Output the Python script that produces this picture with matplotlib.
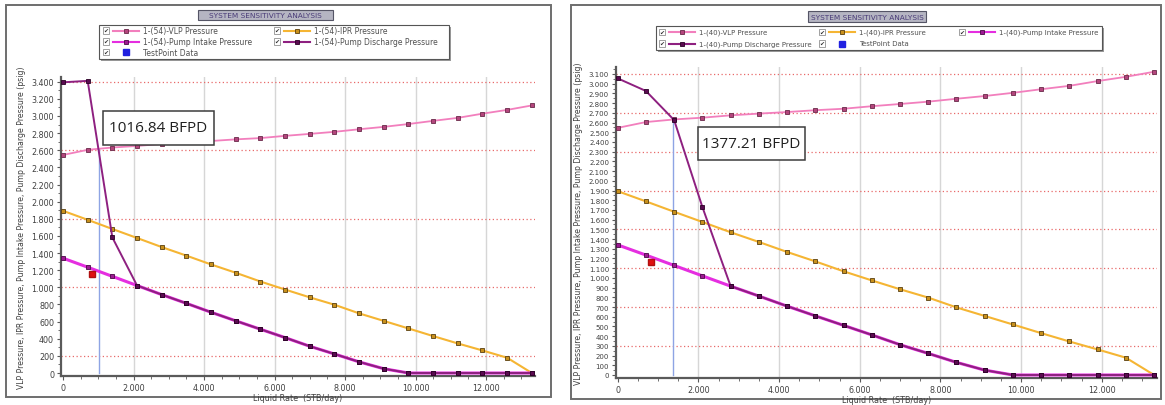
import numpy as np
import matplotlib
matplotlib.use("Agg")
import matplotlib.pyplot as plt
from matplotlib.patches import Rectangle
from matplotlib.lines import Line2D
from matplotlib.ticker import MultipleLocator, AutoMinorLocator, FuncFormatter, FixedLocator

# ---- data -------------------------------------------------------------
liquid_rate = [0, 700, 1400, 2100, 2800, 3500, 4200, 4900, 5600, 6300,
               7000, 7700, 8400, 9100, 9800, 10500, 11200, 11900, 12600, 13300]

vlp_pressure = [2545, 2605, 2632, 2650, 2674, 2692, 2708, 2727, 2742, 2768,
                2791, 2815, 2845, 2873, 2906, 2943, 2978, 3027, 3071, 3123]

ipr_pressure = [1893, 1788, 1681, 1576, 1470, 1370, 1267, 1170, 1068, 974,
                883, 797, 696, 608, 520, 431, 345, 263, 178, 0]

intake_pressure = [1340, 1235, 1128, 1021, 915, 813, 709, 609, 511, 413,
                   312, 222, 130, 50, 0, 0, 0, 0, 0, 0]

discharge_54 = [3393, 3410, 1582, 1021, 915, 813, 709, 609, 511, 413,
                312, 222, 130, 50, 0, 0, 0, 0, 0, 0]

discharge_40 = [3055, 2925, 2625, 1730, 915, 813, 709, 609, 511, 413,
                312, 222, 130, 50, 0, 0, 0, 0, 0, 0]

test_rate = [830]
test_pressure = [1160]

operating_rate_54 = 1016.84
operating_rate_40 = 1377.21

x_ticks = [0, 2000, 4000, 6000, 8000, 10000, 12000]

# ---- styling ----------------------------------------------------------
W, H = 1165, 406
fig = plt.figure(figsize=(W / 100, H / 100), dpi=100)
fig.patch.set_facecolor("white")

FONT = "DejaVu Sans"
TXT = "#404040"
MS = 3.2

C_VLP, M_VLP, E_VLP = "#f27fbd", "#b3457c", "#6a2a4a"
C_IPR, M_IPR, E_IPR = "#f5b533", "#c8901c", "#5a4010"
C_INT, M_INT, E_INT = "#e52ee0", "#9c1a92", "#4a0a46"
C_DIS, M_DIS, E_DIS = "#8e2080", "#5a0a50", "#2a0025"


def fx(px):
    return px / W


def fy(py):
    return 1 - py / H


def dotted(v, pos):
    return f"{v:,.0f}".replace(",", ".")


def add_box(x0, y0, x1, y1, **kw):
    r = Rectangle((fx(x0), fy(y1)), fx(x1) - fx(x0), fy(y0) - fy(y1),
                  transform=fig.transFigure, **kw)
    fig.add_artist(r)
    return r


def checkbox(px, py):
    add_box(px - 3.2, py - 3.2, px + 3.2, py + 3.2, facecolor="white",
            edgecolor="#909090", lw=0.6)
    fig.text(fx(px), fy(py), "\u2714", fontsize=4.3, color="#303030",
             ha="center", va="center", family=FONT)


def legend_entry(px, py, line_color, mark_face, mark_edge, label, size=5.5):
    checkbox(px, py)
    fig.add_artist(Line2D([fx(px + 7), fx(px + 33)], [fy(py), fy(py)],
                          transform=fig.transFigure, color=line_color, lw=1.5))
    fig.add_artist(Line2D([fx(px + 20)], [fy(py)], transform=fig.transFigure,
                          marker="s", ms=MS, mfc=mark_face, mec=mark_edge,
                          mew=0.6, ls="none"))
    fig.text(fx(px + 37), fy(py), label, fontsize=size, color="#505050",
             ha="left", va="center", family=FONT)


def test_entry(px, py, label, size=5.5):
    checkbox(px, py)
    fig.add_artist(Line2D([fx(px + 20)], [fy(py)], transform=fig.transFigure,
                          marker="s", ms=3.8, mfc="#2020e0", mec="#2020e0",
                          ls="none"))
    fig.text(fx(px + 37), fy(py), label, fontsize=size, color="#505050",
             ha="left", va="center", family=FONT)


def panel(box, title_box, legend_box, ax_px, xlim, ylim, y_step, y_grid,
          discharge, op_rate, note_box, ytick_size):
    # outer frame
    add_box(*box, facecolor="white", edgecolor="#6e6e6e", lw=1.4, zorder=0)

    # title tag
    tx0, ty0, tx1, ty1 = title_box
    add_box(tx0, ty0, tx1, ty1, facecolor="#b5b5c2", edgecolor="#555566", lw=0.8)
    fig.text(fx((tx0 + tx1) / 2), fy((ty0 + ty1) / 2 + 0.5),
             "SYSTEM SENSITIVITY ANALYSIS", fontsize=5.3, color="#4a3c78",
             ha="center", va="center", family=FONT)

    # legend frame with shadow
    lx0, ly0, lx1, ly1 = legend_box
    add_box(lx0 + 2, ly0 + 2, lx1 + 2, ly1 + 2, facecolor="#9a9a9a",
            edgecolor="none")
    add_box(lx0, ly0, lx1, ly1, facecolor="white", edgecolor="#555555", lw=0.8)

    # plotting area
    l, t, r, b = ax_px
    ax = fig.add_axes([fx(l), fy(b), (r - l) / W, (b - t) / H])
    ax.set_xlim(*xlim)
    ax.set_ylim(*ylim)
    ax.set_facecolor("white")

    for v in x_ticks[1:]:
        ax.axvline(v, color="#d6d6d6", lw=1.0, zorder=1)
    for v in y_grid:
        ax.axhline(v, color="#e86a6a", lw=0.9, ls=(0, (1, 2)), zorder=1)

    ax.plot(liquid_rate, vlp_pressure, color=C_VLP, lw=1.3, marker="s",
            ms=MS, mfc=M_VLP, mec=E_VLP, mew=0.6, zorder=3)
    ax.plot(liquid_rate, ipr_pressure, color=C_IPR, lw=1.5, marker="s",
            ms=MS, mfc=M_IPR, mec=E_IPR, mew=0.6, zorder=3)
    ax.plot(liquid_rate, intake_pressure, color=C_INT, lw=2.2, marker="s",
            ms=MS, mfc=M_INT, mec=E_INT, mew=0.6, zorder=4)
    ax.plot(liquid_rate, discharge, color=C_DIS, lw=1.4, marker="s",
            ms=MS, mfc=M_DIS, mec=E_DIS, mew=0.6, zorder=5)
    ax.plot(test_rate, test_pressure, ls="none", marker="s", ms=4.2,
            mfc="#e01010", mec="#b01010", zorder=6)

    op_p = np.interp(op_rate, liquid_rate, vlp_pressure)
    ax.plot([op_rate, op_rate], [0, op_p], color="#8ea4e4", lw=1.0, zorder=2)

    for s in ("top", "right"):
        ax.spines[s].set_visible(False)
    for s in ("left", "bottom"):
        ax.spines[s].set_color("#5a5a5a")
        ax.spines[s].set_linewidth(1.6)

    ax.xaxis.set_major_locator(FixedLocator(x_ticks))
    ax.xaxis.set_minor_locator(MultipleLocator(500))
    ax.yaxis.set_major_locator(MultipleLocator(y_step))
    ax.yaxis.set_minor_locator(AutoMinorLocator(2))
    ax.xaxis.set_major_formatter(FuncFormatter(dotted))
    ax.yaxis.set_major_formatter(FuncFormatter(dotted))
    ax.tick_params(axis="x", which="major", labelsize=5.8, labelcolor=TXT,
                   color="#5a5a5a", length=3, width=0.8, pad=2)
    ax.tick_params(axis="y", which="major", labelsize=ytick_size,
                   labelcolor=TXT, color="#5a5a5a", length=3, width=0.8, pad=2)
    ax.tick_params(axis="both", which="minor", color="#5a5a5a", length=2,
                   width=0.6)
    for lab in ax.get_xticklabels() + ax.get_yticklabels():
        lab.set_family(FONT)

    ax.set_xlabel("Liquid Rate  (STB/day)", fontsize=5.8, color=TXT,
                  family=FONT, labelpad=1)
    ax.set_ylabel("VLP Pressure, IPR Pressure, Pump Intake Pressure, "
                  "Pump Discharge Pressure (psig)", fontsize=5.6, color=TXT,
                  family=FONT, labelpad=4)

    # operating-point note
    nx0, ny0, nx1, ny1 = note_box
    add_box(nx0, ny0, nx1, ny1, facecolor="white", edgecolor="#3c3c3c",
            lw=1.1, zorder=10)
    fig.text(fx((nx0 + nx1) / 2), fy((ny0 + ny1) / 2), f"{op_rate:.2f} BFPD",
             fontsize=11, color="#202020", ha="center", va="center",
             family="Open Sans", zorder=11)
    return ax


# ---- left panel: 54 stage pump -----------------------------------------
panel(box=(6, 6, 551, 398), title_box=(198, 11, 333, 21),
      legend_box=(99, 26, 449, 60),
      ax_px=(61, 78, 535, 377), xlim=(-57, 13390), ylim=(-35, 3455),
      y_step=200, y_grid=[200, 1000, 1800, 2600, 3400],
      discharge=discharge_54, op_rate=operating_rate_54,
      note_box=(103, 112, 214, 146), ytick_size=5.8)

legend_entry(106, 31.5, C_VLP, M_VLP, E_VLP, "1-(54)-VLP Pressure")
legend_entry(277, 31.5, C_IPR, M_IPR, E_IPR, "1-(54)-IPR Pressure")
legend_entry(106, 42.5, C_INT, M_INT, E_INT, "1-(54)-Pump Intake Pressure")
legend_entry(277, 42.5, C_DIS, M_DIS, E_DIS, "1-(54)-Pump Discharge Pressure")
test_entry(106, 53, "TestPoint Data")

# ---- right panel: 40 stage pump ----------------------------------------
panel(box=(571, 6, 1161, 400), title_box=(808, 12, 926, 23),
      legend_box=(656, 27, 1102, 51),
      ax_px=(616, 68, 1157, 379), xlim=(-42, 13372), ylim=(-31, 3172),
      y_step=100, y_grid=[300, 700, 1100, 1500, 1900, 2300, 2700, 3100],
      discharge=discharge_40, op_rate=operating_rate_40,
      note_box=(698, 128, 805, 161), ytick_size=5.0)

RS = 5.0
legend_entry(662, 33, C_VLP, M_VLP, E_VLP, "1-(40)-VLP Pressure", RS)
legend_entry(822, 33, C_IPR, M_IPR, E_IPR, "1-(40)-IPR Pressure", RS)
legend_entry(962, 33, C_INT, M_INT, E_INT, "1-(40)-Pump Intake Pressure", RS)
legend_entry(662, 44.5, C_DIS, M_DIS, E_DIS, "1-(40)-Pump Discharge Pressure", RS)
test_entry(822, 44.5, "TestPoint Data", RS)

fig.savefig("out.png", dpi=100, facecolor="white")
